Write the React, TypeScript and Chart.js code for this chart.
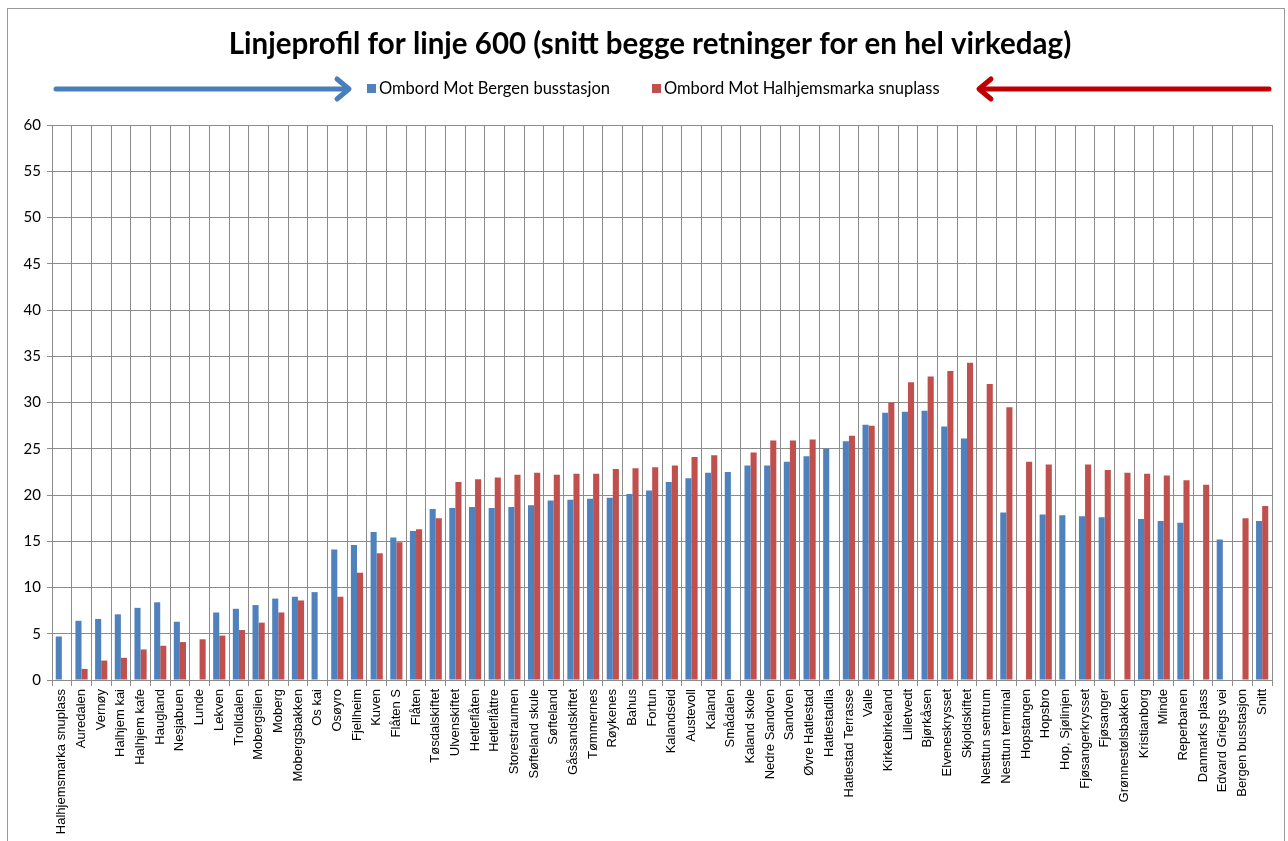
import React, { useEffect, useRef } from "react";
import { Chart, registerables } from "chart.js";

Chart.register(...registerables);

const TITLE = "Linjeprofil for linje 600 (snitt begge retninger for en hel virkedag)";
const LABEL_BERGEN = "Ombord Mot Bergen busstasjon";
const LABEL_HALHJEM = "Ombord Mot Halhjemsmarka snuplass";

const STOPS: string[] = [
  "Halhjemsmarka snuplass", "Auredalen", "Vernøy", "Halhjem kai", "Halhjem kafe",
  "Haugland", "Nesjabuen", "Lunde", "Lekven", "Trolldalen",
  "Mobergslien", "Moberg", "Mobergsbakken", "Os kai", "Osøyro",
  "Fjellheim", "Kuven", "Flåten S", "Flåten", "Tøsdalskiftet",
  "Ulvenskiftet", "Hetleflåten", "Hetleflåttre", "Storestraumen", "Søfteland skule",
  "Søfteland", "Gåssandskiftet", "Tømmernes", "Røykenes", "Bahus",
  "Fortun", "Kalandseid", "Austevoll", "Kaland", "Smådalen",
  "Kaland skole", "Nedre Sandven", "Sandven", "Øvre Hatlestad", "Hatlestadlia",
  "Hatlestad Terrasse", "Valle", "Kirkebirkeland", "Lilletvedt", "Bjørkåsen",
  "Elveneskrysset", "Skjoldskiftet", "Nesttun sentrum", "Nesttun terminal", "Hopstangen",
  "Hopsbro", "Hop, Sjølinjen", "Fjøsangerkrysset", "Fjøsanger", "Grønnestølsbakken",
  "Kristianborg", "Minde", "Reperbanen", "Danmarks plass", "Edvard Griegs vei",
  "Bergen busstasjon", "Snitt",
];

const MOT_BERGEN: (number | null)[] = [
  4.7, 6.4, 6.6, 7.1, 7.8,
  8.4, 6.3, null, 7.3, 7.7,
  8.1, 8.8, 9.0, 9.5, 14.1,
  14.6, 16.0, 15.4, 16.1, 18.5,
  18.6, 18.7, 18.6, 18.7, 18.9,
  19.4, 19.5, 19.6, 19.7, 20.1,
  20.5, 21.4, 21.8, 22.4, 22.5,
  23.2, 23.2, 23.6, 24.2, 25.0,
  25.8, 27.6, 28.9, 29.0, 29.1,
  27.4, 26.1, null, 18.1, null,
  17.9, 17.8, 17.7, 17.6, null,
  17.4, 17.2, 17.0, null, 15.2,
  null, 17.2,
];

const MOT_HALHJEM: (number | null)[] = [
  null, 1.2, 2.1, 2.4, 3.3,
  3.7, 4.1, 4.4, 4.8, 5.4,
  6.2, 7.3, 8.6, null, 9.0,
  11.6, 13.7, 14.9, 16.3, 17.5,
  21.4, 21.7, 21.9, 22.2, 22.4,
  22.2, 22.3, 22.3, 22.8, 22.9,
  23.0, 23.2, 24.1, 24.3, null,
  24.6, 25.9, 25.9, 26.0, null,
  26.4, 27.5, 30.0, 32.2, 32.8,
  33.4, 34.3, 32.0, 29.5, 23.6,
  23.3, null, 23.3, 22.7, 22.4,
  22.3, 22.1, 21.6, 21.1, null,
  17.5, 18.8,
];

const Y_MIN = 0;
const Y_MAX = 60;
const Y_STEP = 5;

const BLUE = "#4F81BD";
const RED = "#C0504D";
const GRID = "#8c8c8c";

function drawArrow(ctx: CanvasRenderingContext2D, x1: number, x2: number, y: number, dir: number, color: string) {
  ctx.save();
  ctx.strokeStyle = color;
  ctx.lineWidth = 5;
  ctx.lineCap = "round";
  ctx.lineJoin = "round";
  ctx.beginPath();
  ctx.moveTo(x1, y);
  ctx.lineTo(x2, y);
  ctx.stroke();
  const tip = dir > 0 ? x2 + 1 : x1 - 1;
  ctx.beginPath();
  ctx.moveTo(tip - dir * 12, y - 10);
  ctx.lineTo(tip, y);
  ctx.lineTo(tip - dir * 12, y + 10);
  ctx.stroke();
  ctx.restore();
}

const decorPlugin = {
  id: "decor",
  beforeDraw(chart: any) {
    const ctx = chart.ctx as CanvasRenderingContext2D;
    ctx.save();
    ctx.fillStyle = "#ffffff";
    ctx.fillRect(0, 0, chart.width, chart.height);
    ctx.strokeStyle = "#9a9a9a";
    ctx.lineWidth = 1;
    ctx.strokeRect(7.5, 8.5, 1277, 900);
    ctx.restore();
  },
  afterDraw(chart: any) {
    const ctx = chart.ctx as CanvasRenderingContext2D;
    ctx.save();
    ctx.fillStyle = "#000";
    ctx.textAlign = "center";
    ctx.textBaseline = "middle";
    ctx.font = "bold 29.5px Lato";
    ctx.fillText(TITLE, 650, 44);

    ctx.font = "16.5px Lato";
    ctx.textAlign = "left";
    const starts = [367, 652];
    chart.data.datasets.forEach((ds: any, i: number) => {
      ctx.fillStyle = ds.backgroundColor;
      ctx.fillRect(starts[i], 84, 9, 9);
      ctx.fillStyle = "#000";
      ctx.fillText(ds.label, starts[i] + 12, 89);
    });

    drawArrow(ctx, 56, 348, 89, 1, "#4A7EBB");
    drawArrow(ctx, 980, 1269, 89, -1, "#C00000");
    ctx.restore();
  },
};

export default function App() {
  const ref = useRef<HTMLCanvasElement | null>(null);

  useEffect(() => {
    if (!ref.current) return;
    const chart = new Chart(ref.current, {
      type: "bar",
      data: {
        labels: STOPS,
        datasets: [
          {
            label: LABEL_BERGEN,
            data: MOT_BERGEN,
            backgroundColor: BLUE,
            categoryPercentage: 0.62,
            barPercentage: 1.0,
          },
          {
            label: LABEL_HALHJEM,
            data: MOT_HALHJEM,
            backgroundColor: RED,
            categoryPercentage: 0.62,
            barPercentage: 1.0,
          },
        ],
      },
      options: {
        responsive: false,
        animation: false,
        devicePixelRatio: 1,
        layout: { padding: { top: 125, left: 0, right: 16, bottom: 0 } },
        plugins: {
          legend: { display: false },
          title: { display: false },
          tooltip: { enabled: false },
        },
        scales: {
          x: {
            offset: true,
            grid: { display: true, offset: true, color: GRID, lineWidth: 1, tickLength: 6, drawTicks: true },
            border: { display: true, color: GRID, width: 1 },
            ticks: {
              autoSkip: false,
              maxRotation: 90,
              minRotation: 90,
              color: "#000",
              padding: 3,
              font: { family: "Liberation Sans", size: 13 },
            },
            afterFit(scale: any) {
              scale.height = 161;
            },
          },
          y: {
            min: Y_MIN,
            max: Y_MAX,
            ticks: {
              stepSize: Y_STEP,
              color: "#000",
              padding: 6,
              font: { family: "Lato", size: 15 },
            },
            grid: { color: GRID, lineWidth: 1, tickLength: 5, drawTicks: true },
            border: { display: true, color: GRID, width: 1 },
            afterFit(scale: any) {
              scale.width = 52;
            },
          },
        },
      },
      plugins: [decorPlugin],
    });
    return () => chart.destroy();
  }, []);

  return (
    <div style={{ position: "absolute", left: 0, top: 0, width: 1288, height: 841 }}>
      <canvas ref={ref} width={1288} height={841} style={{ width: 1288, height: 841 }} />
    </div>
  );
}
